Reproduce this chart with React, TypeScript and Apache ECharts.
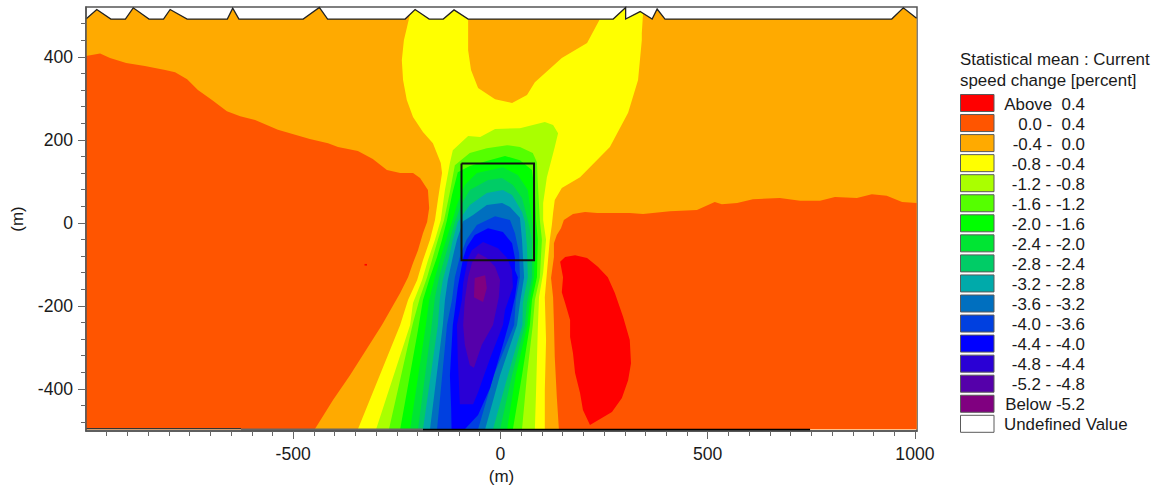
import React, { useEffect, useRef } from "react";
import * as echarts from "echarts";

type P = [number, number];

const legendTitle = ["Statistical mean : Current", "speed change [percent]"];
const bandLabels = [
  "Above  0.4", "0.0 -  0.4", "-0.4 -  0.0", "-0.8 - -0.4", "-1.2 - -0.8", "-1.6 - -1.2",
  "-2.0 - -1.6", "-2.4 - -2.0", "-2.8 - -2.4", "-3.2 - -2.8", "-3.6 - -3.2", "-4.0 - -3.6",
  "-4.4 - -4.0", "-4.8 - -4.4", "-5.2 - -4.8", "Below -5.2", "Undefined Value",
];
const bandColors = [
  "#ff0000", "#ff5500", "#ffaa00", "#ffff00", "#aaff00", "#55ff00",
  "#00ff00", "#00e533", "#00cc66", "#00aaaa", "#006fbf", "#0040e0",
  "#0000ff", "#2a00d5", "#5500aa", "#800080", "#ffffff",
];
const xMajor = [-500, 0, 500, 1000];
const xMinor = [-950, -900, -850, -800, -750, -700, -650, -600, -550, -450, -400, -350, -300, -250, -200, -150, -100, -50, 50, 100, 150, 200, 250, 300, 350, 400, 450, 550, 600, 650, 700, 750, 800, 850, 900, 950];
const yMajor = [-400, -200, 0, 200, 400];
const yMinor = [-480, -440, -360, -320, -280, -240, -160, -120, -80, -40, 40, 80, 120, 160, 240, 280, 320, 360, 440, 480];

const coast: P[] = [[-1000,491],[-974,514],[-940,491],[-905,491],[-886,518],[-848,491],[-813,491],[-797,514],[-756,491],[-659,491],[-646,517],[-631,491],[-476,491],[-437,519],[-417,491],[-230,491],[-206,514],[-172,491],[-138,491],[-112,513],[-78,491],[272,491],[302,519],[302,491],[337,509],[366,491],[378,515],[397,491],[944,491],[972,518],[1004,493]];
const domainBase: P[] = [[1004,-497],[-1000,-497]];
const shoreLeft: P[] = [[-1000,-496],[-626,-496]];
const shoreGray: P[] = [[-626,-499],[-187,-499]];
const shoreBlack: P[] = [[-187,-499],[747,-499]];
const box: P[] = [[-94,143],[81,143],[81,-90],[-94,-90],[-94,143]];

const above0Left: P[] = [[-1000,402],[-966,408],[-942,397],[-903,385],[-858,378],[-809,368],[-785,363],[-756,346],[-730,320],[-696,296],[-660,269],[-628,257],[-592,248],[-537,224],[-460,202],[-416,192],[-392,183],[-344,173],[-308,154],[-274,127],[-242,120],[-211,120],[-194,108],[-175,79],[-172,36],[-177,2],[-187,-25],[-199,-66],[-211,-97],[-223,-131],[-242,-169],[-286,-246],[-363,-367],[-404,-427],[-448,-497],[-1000,-497]];
const above0Right: P[] = [[129,-49],[136,-29],[146,-13],[153,7],[175,21],[204,26],[233,24],[312,24],[344,21],[409,28],[474,31],[517,50],[534,45],[571,48],[609,57],[674,60],[723,53],[771,53],[807,62],[860,60],[896,69],[932,65],[969,50],[1004,48],[1004,-497],[141,-497],[136,-420],[131,-323],[129,-241],[127,-179],[122,-133],[129,-82]];
const aboveLens: P[] = [[144,-94],[156,-82],[180,-78],[209,-85],[235,-106],[259,-131],[276,-169],[296,-227],[312,-282],[315,-338],[308,-379],[293,-422],[269,-456],[216,-487],[199,-451],[192,-410],[180,-362],[175,-314],[168,-275],[168,-234],[156,-193],[148,-167],[151,-131]];
const aboveSpot: P[] = [[-328,-99],[-322,-99],[-322,-103],[-328,-103]];
const belowM04: P[] = [[-218,503],[-206,514],[-172,491],[-138,491],[-112,513],[-78,491],[-78,416],[-71,368],[-54,325],[-13,298],[28,289],[64,308],[83,339],[148,397],[209,433],[240,491],[272,491],[302,519],[302,491],[337,509],[344,504],[341,457],[341,440],[332,344],[308,265],[264,183],[192,110],[148,84],[131,55],[127,24],[124,-5],[119,-41],[112,-121],[107,-179],[110,-282],[107,-403],[107,-497],[-344,-497],[-242,-246],[-223,-186],[-201,-138],[-187,-90],[-170,-41],[-158,7],[-151,55],[-141,120],[-144,144],[-163,192],[-187,219],[-211,255],[-226,296],[-235,344],[-238,392],[-233,440]];
const belowM08: P[] = [[-300,-497],[-218,-246],[-211,-193],[-189,-138],[-175,-90],[-158,-41],[-144,7],[-134,79],[-122,144],[-115,175],[-78,209],[-49,207],[-13,226],[47,228],[107,243],[127,236],[139,216],[131,183],[112,110],[103,48],[103,7],[110,-41],[103,-121],[93,-179],[90,-258],[86,-403],[83,-497]];
const belowM12: P[] = [[-269,-497],[-211,-241],[-194,-179],[-177,-131],[-163,-82],[-151,-41],[-136,7],[-122,74],[-110,139],[-74,168],[-33,180],[16,187],[47,183],[78,168],[88,146],[90,98],[95,7],[100,-41],[95,-131],[83,-186],[78,-246],[64,-367],[52,-497]];
const belowM16: P[] = [[-242,-497],[-199,-258],[-187,-186],[-170,-131],[-153,-82],[-141,-41],[-129,7],[-117,67],[-103,122],[-74,137],[-33,149],[11,161],[47,151],[76,127],[83,74],[86,7],[90,-41],[88,-131],[76,-186],[71,-246],[52,-367],[30,-497]];
const belowM20: P[] = [[-218,-497],[-180,-246],[-172,-186],[-158,-131],[-144,-82],[-129,-34],[-117,2],[-105,43],[-86,91],[-57,120],[6,134],[42,115],[66,79],[76,7],[83,-41],[81,-131],[71,-186],[65,-246],[37,-367],[16,-497]];
const belowM24: P[] = [[-199,-497],[-166,-246],[-158,-179],[-148,-131],[-134,-82],[-122,-41],[-110,2],[-95,43],[-74,79],[-30,103],[4,108],[30,91],[52,60],[66,7],[76,-41],[76,-131],[64,-193],[59,-246],[28,-367],[-1,-497]];
const belowM28: P[] = [[-187,-497],[-151,-246],[-146,-179],[-139,-138],[-124,-82],[-115,-41],[-103,2],[-74,43],[-33,72],[6,79],[28,67],[52,26],[59,2],[64,-58],[66,-131],[54,-193],[53,-246],[18,-367],[-18,-497]];
const belowM32: P[] = [[-170,-497],[-139,-246],[-134,-186],[-127,-138],[-115,-82],[-105,-41],[-90,4],[-66,19],[-33,43],[4,48],[23,38],[47,12],[52,-41],[57,-131],[47,-193],[40,-246],[-1,-367],[-37,-497]];
const belowM36: P[] = [[-153,-497],[-129,-246],[-117,-186],[-110,-131],[-98,-82],[-82,-41],[-57,-5],[-13,16],[23,7],[35,-25],[45,-73],[47,-131],[37,-186],[33,-246],[-16,-367],[-54,-497]];
const belowM40: P[] = [[-118,-497],[-119,-446],[-122,-367],[-115,-246],[-110,-210],[-103,-155],[-90,-85],[-81,-58],[-62,-29],[-30,-13],[6,-22],[28,-49],[35,-85],[35,-114],[42,-131],[35,-179],[21,-241],[6,-294],[-25,-398],[-54,-463],[-86,-497]];
const belowM44: P[] = [[-98,-437],[-103,-326],[-105,-246],[-93,-186],[-90,-145],[-78,-85],[-69,-66],[-42,-46],[-6,-61],[16,-85],[28,-114],[30,-155],[11,-210],[6,-246],[-25,-326],[-54,-408],[-66,-437]];
const belowM48: P[] = [[-64,-349],[-74,-343],[-86,-294],[-90,-246],[-86,-186],[-78,-131],[-69,-97],[-54,-73],[-33,-85],[-13,-106],[-1,-138],[-4,-179],[-18,-246],[-45,-294]];
const belowM52: P[] = [[-62,-133],[-37,-126],[-33,-157],[-42,-191],[-64,-179]];

const fills: [P[], number][] = [
  [[...coast, ...domainBase], 2],
  [above0Left, 1],
  [above0Right, 1],
  [aboveLens, 0],
  [aboveSpot, 0],
  [belowM04, 3],
  [belowM08, 4],
  [belowM12, 5],
  [belowM16, 6],
  [belowM20, 7],
  [belowM24, 8],
  [belowM28, 9],
  [belowM32, 10],
  [belowM36, 11],
  [belowM40, 12],
  [belowM44, 13],
  [belowM48, 14],
  [belowM52, 15],
];
const strokes: [P[], string, number][] = [
  [coast, "#222222", 1.3],
  [shoreLeft, "#333333", 1.2],
  [shoreGray, "#666666", 3],
  [shoreBlack, "#000000", 2.5],
  [box, "#111111", 2],
];

const FONT = "'Liberation Sans', Arial, sans-serif";
const TXT = "#1a1a1a";
const GRAY = "#666666";

function legendGraphics() {
  const out: any[] = [];
  legendTitle.forEach((t, i) => {
    out.push({ type: "text", left: 960, top: 51 + i * 21, silent: true,
      style: { text: t, fill: TXT, fontSize: 16.9, fontFamily: FONT } });
  });
  bandLabels.forEach((t, i) => {
    const top = 94.5 + i * 20.05;
    out.push({ type: "rect", x: 960.5, y: top, silent: true, shape: { x: 0, y: 0, width: 33.5, height: 17 },
      style: { fill: bandColors[i], stroke: "#5a5a5a", lineWidth: 1 } });
    const left = i === bandLabels.length - 1;
    out.push({ type: "text", x: left ? 1004 : 1085, y: top + 9.5, silent: true,
      style: { text: t, fill: TXT, fontSize: 16.9, fontFamily: FONT, align: left ? "left" : "right", verticalAlign: "middle" } });
  });
  return out;
}

export default function App() {
  const ref = useRef<HTMLDivElement>(null);
  useEffect(() => {
    document.body.style.margin = "0";
    document.body.style.background = "#ffffff";
    const chart = echarts.init(ref.current!, undefined, { renderer: "svg" });
    const xBase = { type: "value", min: -1000, max: 1005, gridIndex: 0, splitLine: { show: false } };
    const yBase = { type: "value", min: -501.5, max: 520, gridIndex: 0, splitLine: { show: false } };
    const plain = (v: number) => String(v);
    chart.setOption({
      animation: false,
      backgroundColor: "#ffffff",
      textStyle: { fontFamily: FONT },
      grid: { left: 86, top: 7, width: 831, height: 424, show: true, borderColor: "#555555", borderWidth: 1.5, outerBoundsMode: "none", containLabel: false },
      xAxis: [
        { ...xBase, name: "(m)", nameLocation: "middle", nameGap: 37, z: 4,
          nameTextStyle: { fontSize: 17, color: TXT, fontFamily: FONT },
          axisLine: { show: true, onZero: false, lineStyle: { color: "#555555", width: 1.5 } },
          axisTick: { show: true, length: 8, lineStyle: { color: GRAY }, customValues: xMajor },
          axisLabel: { show: true, fontSize: 17.6, color: TXT, fontFamily: FONT, margin: 14, customValues: xMajor, formatter: plain } },
        { ...xBase, position: "bottom", z: 4,
          axisLine: { show: false, onZero: false },
          axisTick: { show: true, length: 5, lineStyle: { color: GRAY }, customValues: xMinor },
          axisLabel: { show: false } },
      ],
      yAxis: [
        { ...yBase, name: "(m)", nameLocation: "middle", nameGap: 60, z: 4,
          nameTextStyle: { fontSize: 17, color: TXT, fontFamily: FONT },
          axisLine: { show: true, onZero: false, lineStyle: { color: "#555555", width: 1.5 } },
          axisTick: { show: true, length: 8, lineStyle: { color: GRAY }, customValues: yMajor },
          axisLabel: { show: true, fontSize: 17.6, color: TXT, fontFamily: FONT, margin: 13, customValues: yMajor, formatter: plain } },
        { ...yBase, position: "left", z: 4,
          axisLine: { show: false, onZero: false },
          axisTick: { show: true, length: 5, lineStyle: { color: GRAY }, customValues: yMinor },
          axisLabel: { show: false } },
      ],
      graphic: legendGraphics(),
      series: [
        {
          type: "custom", coordinateSystem: "cartesian2d", xAxisIndex: 0, yAxisIndex: 0, clip: true, silent: true, z: 2,
          data: fills.map((_, i) => [i, 0]),
          encode: { x: 0, y: 1 },
          renderItem: (params: any, api: any) => {
            const [pts, c] = fills[params.dataIndex];
            return { type: "polygon", shape: { points: pts.map((p) => api.coord(p)) }, style: { fill: bandColors[c] } };
          },
        },
        {
          type: "custom", coordinateSystem: "cartesian2d", xAxisIndex: 0, yAxisIndex: 0, clip: false, silent: true, z: 3,
          data: strokes.map((_, i) => [i, 0]),
          encode: { x: 0, y: 1 },
          renderItem: (params: any, api: any) => {
            const [pts, color, w] = strokes[params.dataIndex];
            return { type: "polyline", shape: { points: pts.map((p) => api.coord(p)) }, style: { fill: "none", stroke: color, lineWidth: w } };
          },
        },
      ],
    });
    return () => chart.dispose();
  }, []);
  return <div ref={ref} style={{ width: 1156, height: 486, display: "block" }} />;
}
